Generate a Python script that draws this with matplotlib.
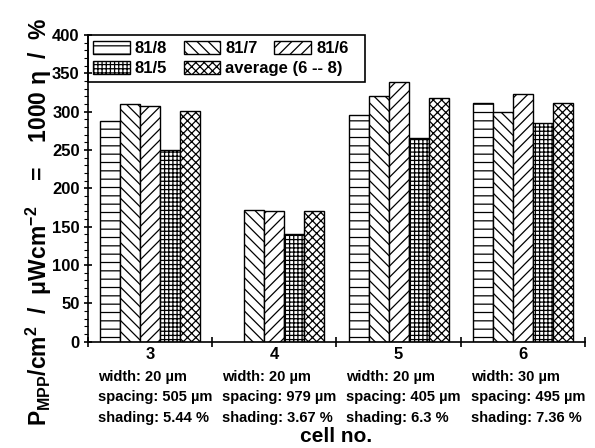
import numpy as np
import matplotlib.pyplot as plt
from matplotlib.ticker import MultipleLocator
from matplotlib.transforms import blended_transform_factory
from matplotlib.patches import Rectangle

plt.rcParams['font.family'] = ['Liberation Sans', 'DejaVu Sans']
plt.rcParams['font.weight'] = 'bold'
plt.rcParams['hatch.linewidth'] = 0.9

# Data
cells = ['3', '4', '5', '6']
series = ['81/8', '81/7', '81/6', '81/5', 'average (6 -- 8)']
hatches = ['--', '\\\\\\', '///', '++++', 'xxxx']
values = [
    [288, np.nan, 296, 311],   # 81/8
    [310, 172, 321, 299],      # 81/7
    [307, 170, 339, 323],      # 81/6
    [250, 141, 266, 285],      # 81/5
    [301, 171, 318, 311],      # average
]
widths = ['20', '20', '20', '30']
spacings = ['505', '979', '405', '495']
shadings = ['5.44', '3.67', '6.3', '7.36']

fig = plt.figure(figsize=(5.95, 4.48), dpi=100)
ax = fig.add_axes([0.148, 0.237, 0.835, 0.685])

x = np.arange(len(cells))
bw = 0.161
handles = []
for i, (name, h, vals) in enumerate(zip(series, hatches, values)):
    pos = x + (i - 2) * bw
    b = ax.bar(pos, vals, bw, color='white', edgecolor='black', hatch=h,
               linewidth=1.0, label=name)
    handles.append(b)

ax.set_xlim(-0.5, 3.5)
ax.set_ylim(0, 400)
ax.yaxis.set_major_locator(MultipleLocator(50))
ax.yaxis.set_minor_locator(MultipleLocator(10))
ax.set_xticks([-0.5, 0.5, 1.5, 2.5, 3.5])
ax.set_xticklabels([])
ax.tick_params(axis='y', which='major', direction='inout', length=6, width=1.2,
               labelsize=12, pad=3)
ax.tick_params(axis='y', which='minor', direction='out', length=3, width=0.8)
ax.tick_params(axis='x', which='major', direction='inout', length=7, width=1.2)
for s in ['top', 'right']:
    ax.spines[s].set_visible(False)
for s in ['left', 'bottom']:
    ax.spines[s].set_linewidth(1.2)

trans = blended_transform_factory(ax.transData, ax.transAxes)
for i, c in enumerate(cells):
    ax.text(x[i], -0.042, c, transform=trans, ha='center', va='center',
            fontsize=12, fontweight='bold')
    lines = [f'width: {widths[i]} \u00b5m', f'spacing: {spacings[i]} \u00b5m',
             f'shading: {shadings[i]} %']
    for j, t in enumerate(lines):
        ax.text(x[i] - 0.42, -0.113 - j * 0.067, t, transform=trans, ha='left',
                va='center', fontsize=10.5, fontweight='bold')

ax.text(0.5, -0.31, 'cell no.', transform=ax.transAxes, ha='center', va='center',
        fontsize=15, fontweight='bold')

fig.text(0.065, 0.505,
         r'P$_{\mathregular{MPP}}$/cm$^{\mathregular{2}}$  /  $\mathregular{\mu}$Wcm$^{\mathregular{-2}}$    =    1000 $\mathregular{\eta}$  /  %',
         rotation=90, ha='center', va='center', fontsize=16.5, fontweight='bold')

# legend: two rows, drawn as two frameless legends inside one box
kw = dict(loc='upper left', fontsize=12, frameon=False, handlelength=2.2,
          handleheight=0.8, columnspacing=1.0, handletextpad=0.3,
          borderpad=0.0, borderaxespad=0.0)
leg1 = ax.legend(handles[:3], series[:3], ncol=3, bbox_to_anchor=(0.01, 0.98), **kw)
ax.add_artist(leg1)
leg2 = ax.legend(handles[3:], series[3:], ncol=2, bbox_to_anchor=(0.01, 0.915), **kw)
ax.add_patch(Rectangle((0.0, 0.847), 0.557, 0.153, transform=ax.transAxes,
                       fill=False, edgecolor='black', linewidth=1.2, zorder=5,
                       clip_on=False))

fig.savefig('out.png', dpi=100)
